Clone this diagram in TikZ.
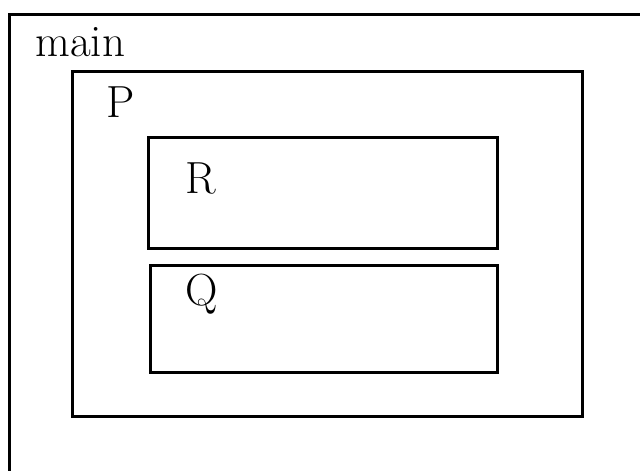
\documentclass[tikz,border=0pt]{standalone}
\tikzset{
  frame/.style={line width=1.5pt},
  label/.style={anchor=base west, inner sep=0pt, font=\fontsize{22.5}{27}\selectfont}
}
\begin{document}
\begin{tikzpicture}[x=0.5pt, y=-0.5pt]
            \useasboundingbox (0,0) rectangle (640,470);
            \clip (0,0) rectangle (640,470);

            % nested scopes
            \draw[frame] (9,15) rectangle (660,490);
            \draw[frame] (72,72) rectangle (582,416);
            \draw[frame] (148,138) rectangle (497,248);
            \draw[frame] (150,265) rectangle (497,372);

            \node[label] (main) at (35,57)  {main};
            \node[label] (p)    at (106,118) {P};
            \node[label] (r)    at (185,193) {R};
            \node[label] (q)    at (185,305) {Q};
        \end{tikzpicture}
\end{document}
